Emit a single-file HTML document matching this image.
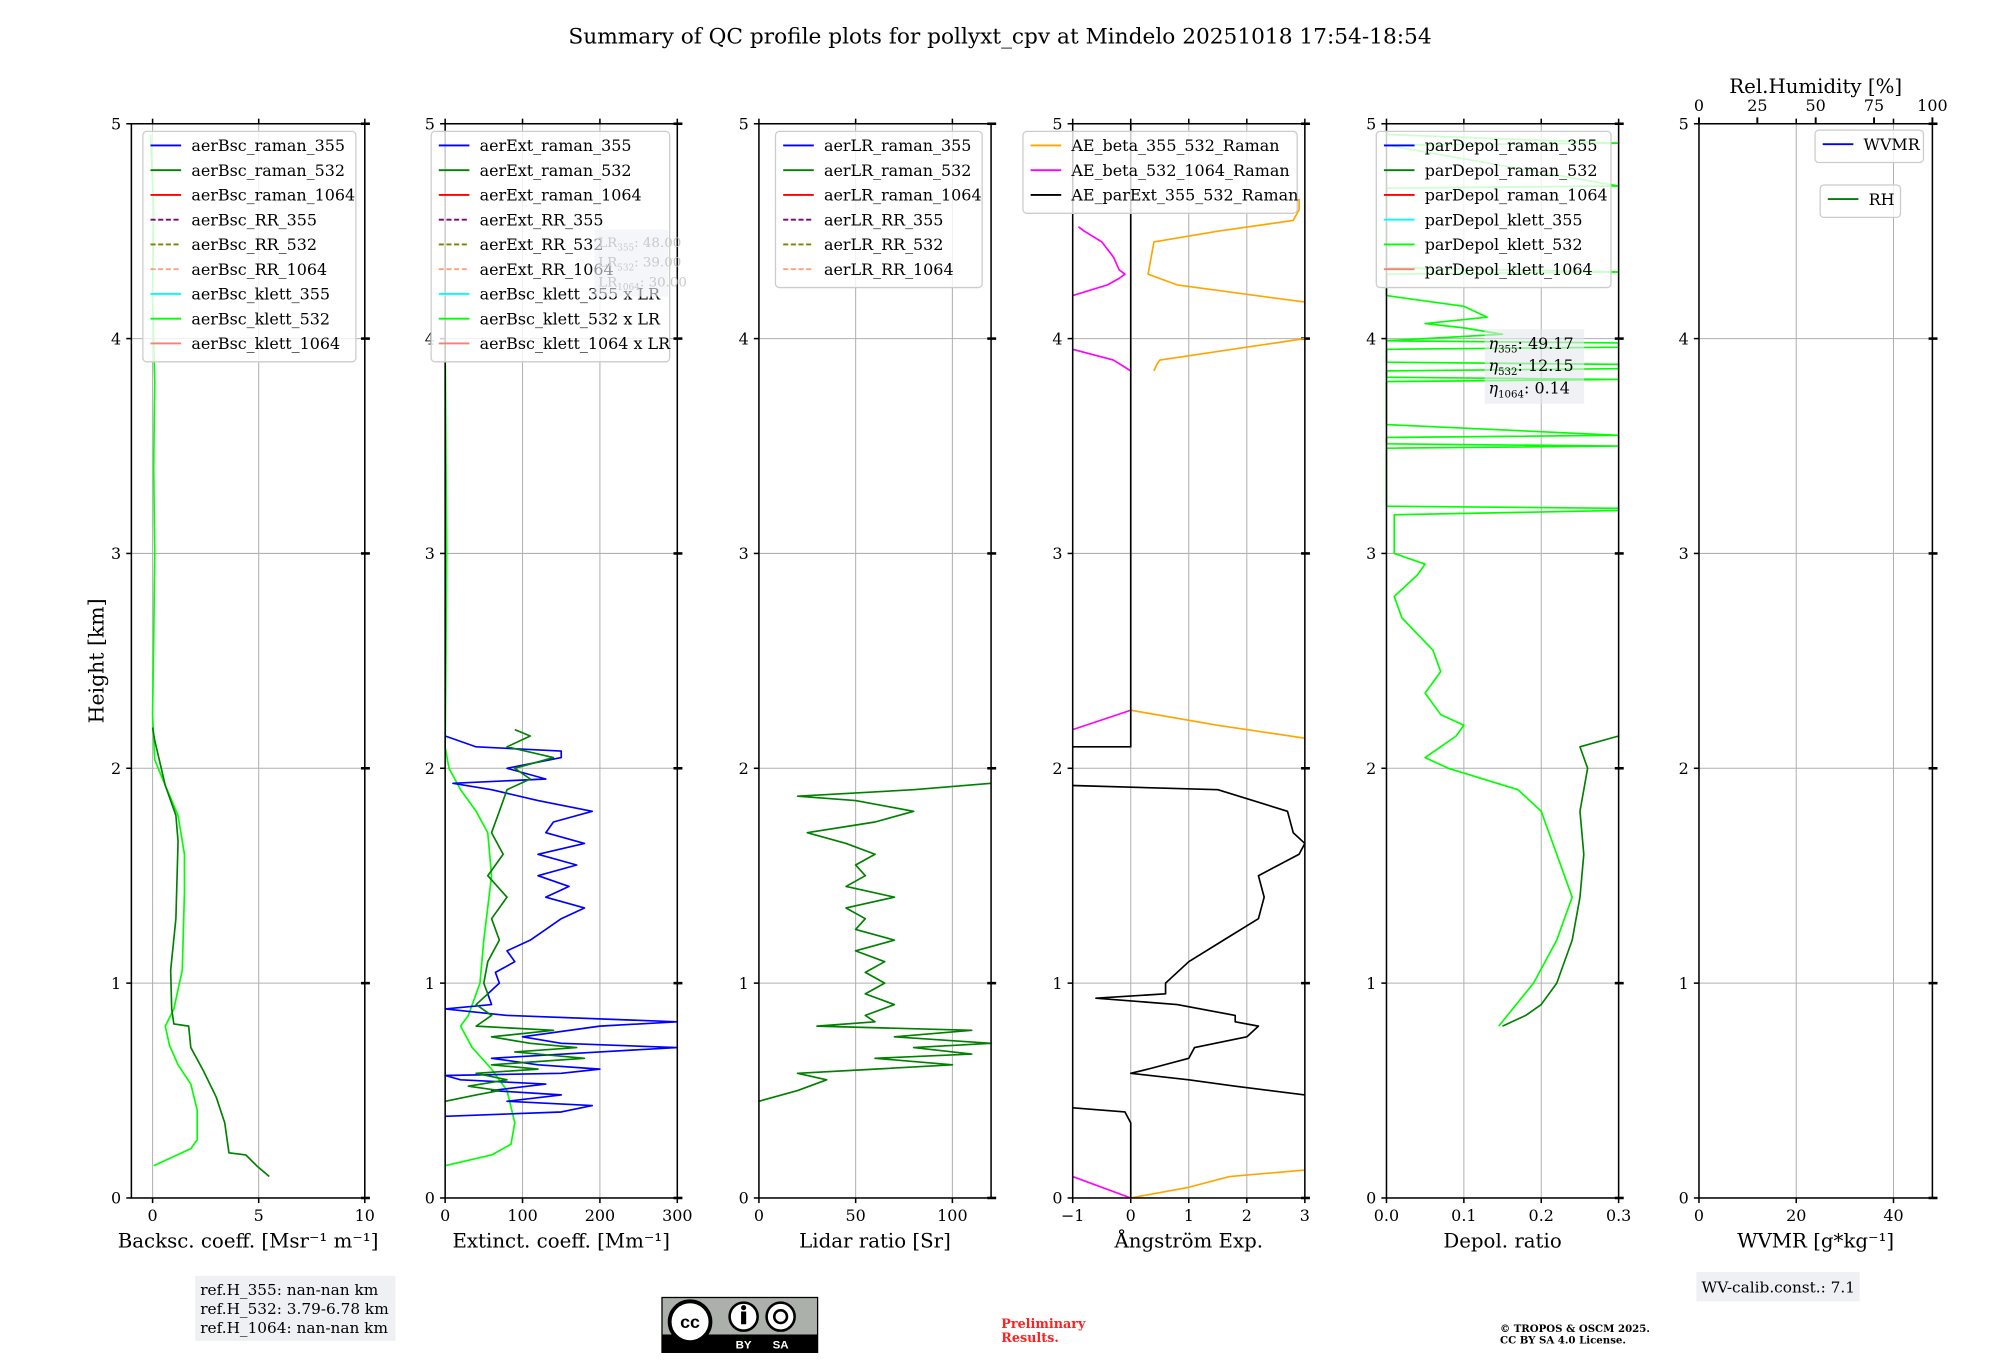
<!DOCTYPE html>
<html><head><meta charset="utf-8">
<style>
html,body{margin:0;padding:0;background:#fff;}
svg{display:block;font-family:"DejaVu Serif","Liberation Serif",serif;}
</style></head>
<body>
<svg id="fig" width="2000" height="1360" viewBox="0 0 1568 1066" preserveAspectRatio="none" xmlns="http://www.w3.org/2000/svg">
<text x="784" y="34" font-size="17" text-anchor="middle">Summary of QC profile plots for pollyxt_cpv at Mindelo 20251018 17:54-18:54</text>
<text x="0" y="0" font-size="16" text-anchor="middle" transform="translate(81,518) rotate(-90)">Height [km]</text>
<g id="plots"></g>
<g>
<rect x="153" y="1000" width="157" height="51" fill="#eef0f4"/>
<text x="157" y="1015" font-size="12">ref.H_355: nan-nan km</text>
<text x="157" y="1030" font-size="12">ref.H_532: 3.79-6.78 km</text>
<text x="157" y="1045" font-size="12">ref.H_1064: nan-nan km</text>
</g>
<g>
<rect x="519" y="1017" width="122" height="43" fill="#abb1aa" stroke="#000" stroke-width="1"/>
<rect x="519" y="1046" width="122" height="14" fill="#000"/>
<circle cx="541" cy="1036" r="16" fill="#fff" stroke="#000" stroke-width="3"/>
<text x="541" y="1041" font-size="14" font-weight="bold" text-anchor="middle" font-family="Liberation Sans,sans-serif">cc</text>
<circle cx="583" cy="1032" r="11" fill="#fff" stroke="#000" stroke-width="2"/>
<rect x="581" y="1028" width="4" height="10" fill="#000"/><circle cx="583" cy="1025" r="2" fill="#000"/>
<circle cx="612" cy="1032" r="11" fill="#fff" stroke="#000" stroke-width="2"/>
<circle cx="612" cy="1032" r="5" fill="none" stroke="#000" stroke-width="2"/>
<text x="583" y="1057" font-size="9" fill="#fff" text-anchor="middle" font-family="Liberation Sans,sans-serif" font-weight="bold">BY</text>
<text x="612" y="1057" font-size="9" fill="#fff" text-anchor="middle" font-family="Liberation Sans,sans-serif" font-weight="bold">SA</text>
</g>
<text x="785" y="1041" font-size="10" font-weight="bold" fill="#ff2020">Preliminary</text>
<text x="785" y="1052" font-size="10" font-weight="bold" fill="#ff2020">Results.</text>
<text x="1176" y="1044" font-size="8" font-weight="bold">© TROPOS &amp; OSCM 2025.</text>
<text x="1176" y="1053" font-size="8" font-weight="bold">CC BY SA 4.0 License.</text>
<g>
<rect x="1330" y="997" width="128" height="23" fill="#eef0f4"/>
<text x="1334" y="1013" font-size="12">WV-calib.const.: 7.1</text>
</g>
</svg>
<script>
// ---- data ----
const heightTicks=[0,1,2,3,4,5];
// panel 1: backscatter
const bsc532H=[0.1,0.15,0.2,0.21,0.35,0.47,0.59,0.7,0.8,0.81,0.88,1.06,1.3,1.66,1.78,1.92,2.13,2.19];
const bsc532V=[5.5,4.9,4.4,3.6,3.4,3.0,2.4,1.8,1.7,1.0,0.9,0.85,1.1,1.2,1.1,0.6,0.1,0.0];
const bscK532H=[0.15,0.23,0.27,0.41,0.53,0.62,0.71,0.8,0.88,1.06,1.42,1.6,1.78,1.92,2.04,2.25,2.6,3.0,3.4,3.8,4.2,4.6,4.95];
const bscK532V=[0.05,1.8,2.1,2.1,1.8,1.2,0.8,0.6,1.0,1.4,1.5,1.5,1.2,0.6,0.1,0.0,0.05,0.1,0.05,0.1,0.0,0.05,-0.1];
// panel 2: extinction
const ext355H=[0.38,0.4,0.43,0.45,0.48,0.5,0.53,0.55,0.57,0.58,0.6,0.62,0.65,0.68,0.7,0.72,0.75,0.8,0.82,0.85,0.88,0.9,0.95,1.0,1.05,1.1,1.15,1.2,1.25,1.3,1.35,1.4,1.45,1.5,1.55,1.6,1.65,1.7,1.75,1.8,1.85,1.9,1.93,1.95,2.0,2.05,2.08,2.1,2.15];
const ext355V=[0,150,190,80,150,60,130,20,0,150,200,120,60,200,300,150,100,200,300,80,0,60,55,70,65,90,80,110,130,150,180,130,160,120,170,120,180,130,140,190,120,60,10,130,80,150,150,40,0];
const ext532H=[0.45,0.48,0.5,0.52,0.55,0.58,0.6,0.62,0.65,0.68,0.7,0.72,0.75,0.78,0.8,0.85,0.9,0.95,1.0,1.1,1.2,1.3,1.4,1.5,1.6,1.7,1.8,1.9,1.95,2.0,2.05,2.1,2.15,2.18];
const ext532V=[0,40,70,30,80,40,120,60,180,90,170,110,60,140,40,60,40,55,50,55,70,60,80,55,75,60,70,80,110,90,140,80,110,90];
const extK532H=[0.15,0.2,0.25,0.35,0.5,0.6,0.7,0.8,0.85,1.0,1.2,1.5,1.7,1.8,1.9,2.0,2.1,2.5,3.0,3.5,4.0];
const extK532V=[0,60,85,90,80,60,35,20,30,45,50,60,55,40,20,5,0,1,2,1,0];
// panel 3: lidar ratio
const lr532H=[0.45,0.5,0.55,0.58,0.6,0.62,0.65,0.67,0.7,0.72,0.75,0.78,0.8,0.82,0.85,0.9,0.95,1.0,1.05,1.1,1.15,1.2,1.25,1.3,1.35,1.4,1.45,1.5,1.55,1.6,1.65,1.7,1.75,1.8,1.85,1.87,1.9,1.93];
const lr532V=[0,20,35,20,60,100,60,110,80,120,70,110,30,60,55,70,55,65,55,65,50,70,50,55,45,70,45,55,50,60,45,25,60,80,50,20,80,120];
// panel 4: angstrom (null = gap)
const aeBscH=[0.0,0.05,0.1,0.13,null,2.14,2.2,2.27,null,3.85,3.88,3.9,4.0,null,4.17,4.25,4.3,4.45,4.5,4.55,4.6,4.65];
const aeBscV=[0.0,1.0,1.7,3.0,null,3.0,1.5,0.0,null,0.4,0.45,0.5,3.0,null,3.0,0.8,0.3,0.4,1.5,2.8,2.9,2.9];
const ae1064H=[0.1,0.0,null,2.18,2.27,null,3.95,3.9,3.85,null,4.2,4.25,4.28,4.3,4.32,4.38,4.45,4.5,4.52];
const ae1064V=[-1,0,null,-1,0,null,-1,-0.3,0,null,-1,-0.4,-0.2,-0.1,-0.2,-0.3,-0.5,-0.8,-0.9];
const aeExtH=[0.0,0.3,0.35,0.4,0.42,null,0.48,0.52,0.55,0.58,0.6,0.65,0.7,0.75,0.8,0.82,0.85,0.9,0.93,0.95,1.0,1.1,1.2,1.3,1.4,1.5,1.6,1.65,1.7,1.8,1.9,1.92,null,2.1,2.1,2.5,3.0,3.5,4.0,4.5,5.0];
const aeExtV=[0,0,0,-0.1,-1,null,3,1.8,1.0,0,0.3,1.0,1.1,2.0,2.2,1.8,1.8,0.8,-0.6,0.6,0.6,1.0,1.6,2.2,2.3,2.2,2.9,3.0,2.8,2.7,1.5,-1,null,-1,0,0,0,0,0,0,0];
// panel 5: depol
const dep532H=[0.8,0.85,0.9,1.0,1.2,1.4,1.6,1.8,2.0,2.1,2.15];
const dep532V=[0.15,0.18,0.2,0.22,0.24,0.25,0.255,0.25,0.26,0.25,0.3];
const depK532H=[0.8,1.0,1.2,1.4,1.6,1.8,1.9,2.0,2.05,2.1,2.15,2.2,2.25,2.35,2.45,2.55,2.7,2.8,2.9,2.95,3.0,3.18,3.2,3.21,3.22,3.49,3.5,3.51,3.54,3.55,3.6,3.8,3.81,3.82,3.85,3.86,3.88,3.89,3.95,3.96,3.98,3.99,4.02,4.05,4.07,4.1,4.15,4.2,4.3,4.31,4.33,4.5,4.7,4.71,4.9,4.91,4.95];
const depK532V=[0.145,0.19,0.22,0.24,0.22,0.2,0.17,0.08,0.05,0.07,0.09,0.1,0.07,0.05,0.07,0.06,0.02,0.01,0.04,0.05,0.01,0.01,0.3,0.3,0.0,0.0,0.3,0.0,0.0,0.3,0.0,0.0,0.3,0.0,0.0,0.3,0.3,0.0,0.0,0.3,0.3,0.0,0.15,0.1,0.05,0.13,0.1,0.0,0.0,0.3,0.0,0.0,0.0,0.3,0.0,0.3,0.0];

const panels=[
 {x0:103,x1:286,min:-1,max:10,ticks:[0,5,10],label:"Backsc. coeff. [Msr⁻¹ m⁻¹]",name:"backscatter"},
 {x0:349,x1:531,min:0,max:300,ticks:[0,100,200,300],label:"Extinct. coeff. [Mm⁻¹]",name:"extinction"},
 {x0:595,x1:777,min:0,max:120,ticks:[0,50,100],label:"Lidar ratio [Sr]",name:"lidar-ratio"},
 {x0:841,x1:1023,min:-1,max:3,ticks:[-1,0,1,2,3],label:"Ångström Exp.",name:"angstrom"},
 {x0:1087,x1:1269,min:0,max:0.3,ticks:[0,0.1,0.2,0.3],tickLabels:["0.0","0.1","0.2","0.3"],label:"Depol. ratio",name:"depol"},
 {x0:1332,x1:1515,min:0,max:48,ticks:[0,20,40],label:"WVMR [g*kg⁻¹]",name:"wvmr"}
];
const Y0=939,Y1=97,HMAX=5;
const NS="http://www.w3.org/2000/svg";
const root=document.getElementById('plots');
function yS(h){return Y0-(h/HMAX)*(Y0-Y1);}
function xS(p,v){return p.x0+(v-p.min)/(p.max-p.min)*(p.x1-p.x0);}
function mk(tag,attrs,parent){const e=document.createElementNS(NS,tag);for(const k in attrs)e.setAttribute(k,attrs[k]);(parent||root).appendChild(e);return e;}
function pathD(p,H,V){let d="",pen=false;for(let i=0;i<H.length;i++){if(H[i]===null||V[i]===null){pen=false;continue;}const x=Math.max(p.x0,Math.min(p.x1,xS(p,V[i])));d+=(pen?"L":"M")+x.toFixed(1)+" "+yS(H[i]).toFixed(1);pen=true;}return d;}

panels.forEach((p,pi)=>{
 const g=mk('g',{});
 
 
 p.g=g;
 p.ticks.forEach((t,ti)=>{
   const x=xS(p,t);
   const gl=mk('line',{x1:x,x2:x,y1:Y1,y2:Y0,stroke:'#b0b0b0','stroke-width':0.8},g);
   
   
   mk('line',{x1:x,x2:x,y1:Y0,y2:Y0+4,stroke:'#000','stroke-width':1.2},g);
   mk('line',{x1:x,x2:x,y1:Y1-4,y2:Y1,stroke:'#000','stroke-width':1.2},g);
   const tl=mk('text',{x:x,y:Y0+18,'font-size':12.5,'text-anchor':'middle'},g);
   tl.textContent=p.tickLabels?p.tickLabels[ti]:(t<0?'−'+(-t):String(t));
   
   
 });
 heightTicks.forEach(h=>{
   const y=yS(h);
   if(h>0&&h<5){const hl=mk('line',{x1:p.x0,x2:p.x1,y1:y,y2:y,stroke:'#b0b0b0','stroke-width':0.8},g);
   
   }
   mk('line',{x1:p.x0-4,x2:p.x0,y1:y,y2:y,stroke:'#000','stroke-width':1.2},g);
   mk('line',{x1:p.x1-3,x2:p.x1+4,y1:y,y2:y,stroke:'#000','stroke-width':2},g);
   const yl=mk('text',{x:p.x0-8,y:y+4.5,'font-size':12.5,'text-anchor':'end'},g);
   yl.textContent=String(h);
   
   
 });
 const al=mk('text',{x:(p.x0+p.x1)/2,y:978,'font-size':15.5,'text-anchor':'middle'},g);
 al.textContent=p.label;
 
 
});

function series(pi,H,V,color,name,w){
 const p=panels[pi];
 const e=mk('path',{d:pathD(p,H,V),fill:'none',stroke:color,'stroke-width':w||1.3,'stroke-linejoin':'round'},p.g);
 
 
}
series(0,bscK532H,bscK532V,'#00ff00','line-aerBsc-klett-532');
series(0,bsc532H,bsc532V,'#008000','line-aerBsc-raman-532');
series(1,extK532H,extK532V,'#00ff00','line-aerBsc-klett-532-x-lr');
series(1,ext355H,ext355V,'#0000ff','line-aerExt-raman-355');
series(1,ext532H,ext532V,'#008000','line-aerExt-raman-532');
series(2,lr532H,lr532V,'#008000','line-aerLR-raman-532');
series(3,aeBscH,aeBscV,'#ffa500','line-ae-beta-355-532');
series(3,ae1064H,ae1064V,'#ff00ff','line-ae-beta-532-1064');
series(3,aeExtH,aeExtV,'#000000','line-ae-parext-355-532');
series(4,depK532H,depK532V,'#00ff00','line-parDepol-klett-532');
series(4,dep532H,dep532V,'#008000','line-parDepol-raman-532');

panels.forEach(p=>{
 const f=mk('rect',{x:p.x0,y:Y1,width:p.x1-p.x0,height:Y0-Y1,fill:'none',stroke:'#000','stroke-width':1.2},p.g);
 
 
});

const p6=panels[5];
[0,25,50,75,100].forEach(t=>{
 const x=p6.x0+t/100*(p6.x1-p6.x0);
 mk('line',{x1:x,x2:x,y1:Y1-5,y2:Y1,stroke:'#000','stroke-width':1.5},p6.g);
 const tt=mk('text',{x:x,y:Y1-10,'font-size':12.5,'text-anchor':'middle'},p6.g);
 tt.textContent=String(t);
 
 
});
const rht=mk('text',{x:(p6.x0+p6.x1)/2,y:73,'font-size':15.5,'text-anchor':'middle'},p6.g);
rht.textContent='Rel.Humidity [%]';



function legend(x,y,w,entries,name){
 const g=mk('g',{});
 
 
 mk('rect',{x:x,y:y,width:w,height:entries.length*19.4+6,rx:3,fill:'#fff','fill-opacity':0.8,stroke:'#ccc','stroke-width':1},g);
 entries.forEach((en,i)=>{
  const yy=y+11+i*19.4;
  mk('line',{x1:x+6,x2:x+30,y1:yy,y2:yy,stroke:en[1],'stroke-width':1.5,'stroke-dasharray':en[2]?'4,2':'none'},g);
  const t=mk('text',{x:x+38,y:yy+4.5,'font-size':12.5},g);
  t.textContent=en[0];
  
  
 });
}
const lc=[['#0000ff',0],['#008000',0],['#ff0000',0],['#800080',1],['#808000',1],['#ffa07a',1],['#00ffff',0],['#00ff00',0],['#fa8072',0]];
legend(112,103,167,['aerBsc_raman_355','aerBsc_raman_532','aerBsc_raman_1064','aerBsc_RR_355','aerBsc_RR_532','aerBsc_RR_1064','aerBsc_klett_355','aerBsc_klett_532','aerBsc_klett_1064'].map((s,i)=>[s,lc[i][0],lc[i][1]]),'legend-backscatter');
legend(338,103,187,['aerExt_raman_355','aerExt_raman_532','aerExt_raman_1064','aerExt_RR_355','aerExt_RR_532','aerExt_RR_1064','aerBsc_klett_355 x LR','aerBsc_klett_532 x LR','aerBsc_klett_1064 x LR'].map((s,i)=>[s,lc[i][0],lc[i][1]]),'legend-extinction');
legend(608,103,162,['aerLR_raman_355','aerLR_raman_532','aerLR_raman_1064','aerLR_RR_355','aerLR_RR_532','aerLR_RR_1064'].map((s,i)=>[s,lc[i][0],lc[i][1]]),'legend-lidar-ratio');
legend(802,103,215,[['AE_beta_355_532_Raman','#ffa500'],['AE_beta_532_1064_Raman','#ff00ff'],['AE_parExt_355_532_Raman','#000000']],'legend-angstrom');
legend(1079,103,184,[['parDepol_raman_355','#0000ff'],['parDepol_raman_532','#008000'],['parDepol_raman_1064','#ff0000'],['parDepol_klett_355','#00ffff'],['parDepol_klett_532','#00ff00'],['parDepol_klett_1064','#fa8072']],'legend-depol');
legend(1423,102,85,[['WVMR','#0000ff']],'legend-wvmr');
legend(1427,145,63,[['RH','#008000']],'legend-rh');

function annot(x,y,w,lines,color,name,bg,fs){
 const g=mk('g',{});
 
 
 mk('rect',{x:x,y:y,width:w,height:lines.length*(fs+5)+6,fill:bg,'fill-opacity':0.6},g);
 lines.forEach((l,i)=>{const t=mk('text',{x:x+3,y:y+fs+3+i*(fs+5),'font-size':fs,fill:color},g);t.innerHTML=l;});
}
annot(466,180,58,['LR<tspan font-size="7" dy="3">355</tspan><tspan dy="-3">: 48.00</tspan>','LR<tspan font-size="7" dy="3">532</tspan><tspan dy="-3">: 39.00</tspan>','LR<tspan font-size="7" dy="3">1064</tspan><tspan dy="-3">: 30.00</tspan>'],'#c8c8c8','lidar-ratio-annotation','#eef0f6',10.5);
annot(1164,258,78,['<tspan font-style="italic">η</tspan><tspan font-size="8" dy="3">355</tspan><tspan dy="-3">: 49.17</tspan>','<tspan font-style="italic">η</tspan><tspan font-size="8" dy="3">532</tspan><tspan dy="-3">: 12.15</tspan>','<tspan font-style="italic">η</tspan><tspan font-size="8" dy="3">1064</tspan><tspan dy="-3">: 0.14</tspan>'],'#000','eta-annotation','#e6e8ee',12.5);
</script>
</body></html>
